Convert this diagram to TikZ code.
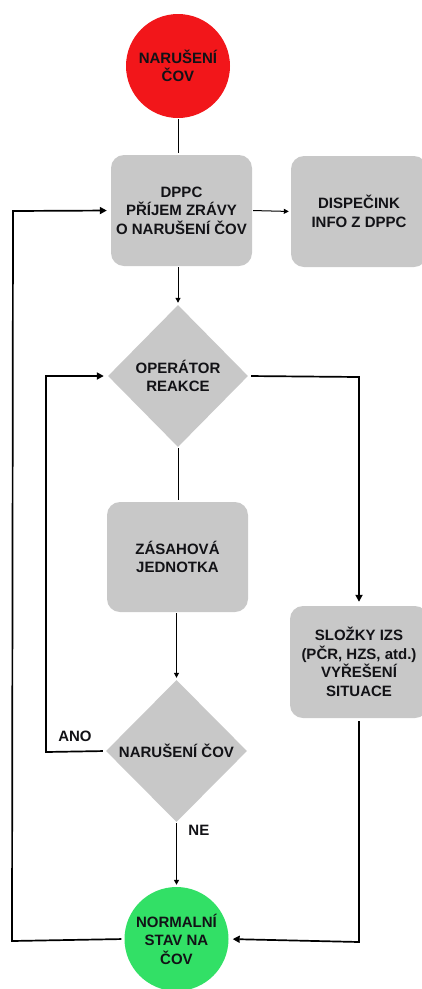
\documentclass[tikz,border=0pt]{standalone}
\usepackage{fontspec}
\setmainfont{Liberation Sans}
\usetikzlibrary{shapes.geometric,arrows.meta}
\definecolor{boxgrey}{RGB}{200,200,200}
\definecolor{alarmred}{RGB}{242,22,26}
\definecolor{okgreen}{RGB}{50,224,102}
\definecolor{ink}{RGB}{18,18,22}
\begin{document}
\begin{tikzpicture}[x=1pt,y=-1pt,
  every node/.style={font=\fontsize{15}{18.5}\selectfont\bfseries, text=ink, align=center},
  stepbox/.style={rectangle, rounded corners=13pt, fill=boxgrey, inner sep=0pt},
  decision/.style={diamond, fill=boxgrey, inner sep=0pt, shape aspect=1,
    minimum width=140pt, minimum height=142pt},
  terminal/.style={circle, inner sep=0pt, minimum size=104pt},
  thinlink/.style={draw=black, line width=1pt, shorten <=1pt, shorten >=2pt},
  thicklink/.style={draw=black, line width=1.7pt, shorten <=3pt, shorten >=4pt},
  tip/.style={-{Triangle[length=7pt,width=7pt]}},
  smalltip/.style={-{Triangle[length=5pt,width=5pt]}},
]
\useasboundingbox (0,0) rectangle (422,989);

% shapes of the flow
\node[terminal, fill=alarmred] (start) at (178,66) {NARUŠENÍ\\ČOV};
\node[stepbox, minimum width=141pt, minimum height=111pt] (dppc) at (181.5,210.5)
  {DPPC\\PŘÍJEM ZRÁVY\\O NARUŠENÍ ČOV};
\node[stepbox, minimum width=136pt, minimum height=111pt] (disp) at (359,211.5)
  {DISPEČINK\\INFO Z DPPC};
\node[decision] (op) at (178,376) {OPERÁTOR\\REAKCE};
\node[stepbox, minimum width=141pt, minimum height=110pt] (zas) at (177.5,557)
  {ZÁSAHOVÁ\\ JEDNOTKA};
\node[stepbox, minimum width=138pt, minimum height=112pt] (izs) at (359,662)
  {SLOŽKY IZS\\(PČR, HZS, atd.)\\VYŘEŠENÍ\\SITUACE};
\node[decision, minimum width=141pt] (dia2) at (176.5,751) {NARUŠENÍ ČOV};
\node[terminal, fill=okgreen] (end) at (176.5,939) {NORMALNÍ\\STAV NA\\ČOV};

% turning points of the loops
\coordinate (ltop) at (13,211);
\coordinate (lbot) at (12,941);
\coordinate (mtop) at (46,376);
\coordinate (mbot) at (46,752);
\coordinate (rtop) at (359,377);
\coordinate (rbot) at (359,942);

% straight connectors
\draw[thinlink] (start.south) -- (start.south |- dppc.north);
\draw[thinlink, smalltip] (dppc.east) -- (disp.west);
\draw[thinlink, smalltip] (op.north |- dppc.south) -- (op.north);
\draw[thinlink] (op.south) -- (op.south |- zas.north);
\draw[thinlink, smalltip] (dia2.north |- zas.south) -- (dia2.north);
\draw[thinlink, line width=1.2pt, smalltip] (dia2.south) -- (end.north)
  node[pos=0.13, right=8pt] (ne) {NE};

% loops
\draw[thicklink, tip] (op.east) -- (rtop) -- (izs.north);
\draw[thicklink, tip] (izs.south) -- (rbot) -- (end.east);
\draw[thicklink, tip] (dia2.west) -- (mbot) -- (mtop) -- (op.west);
\node (ano) at (75,736) {ANO};
\draw[thicklink, tip] (end.west) -- (lbot) -- (ltop) -- (dppc.west);
\end{tikzpicture}
\end{document}
